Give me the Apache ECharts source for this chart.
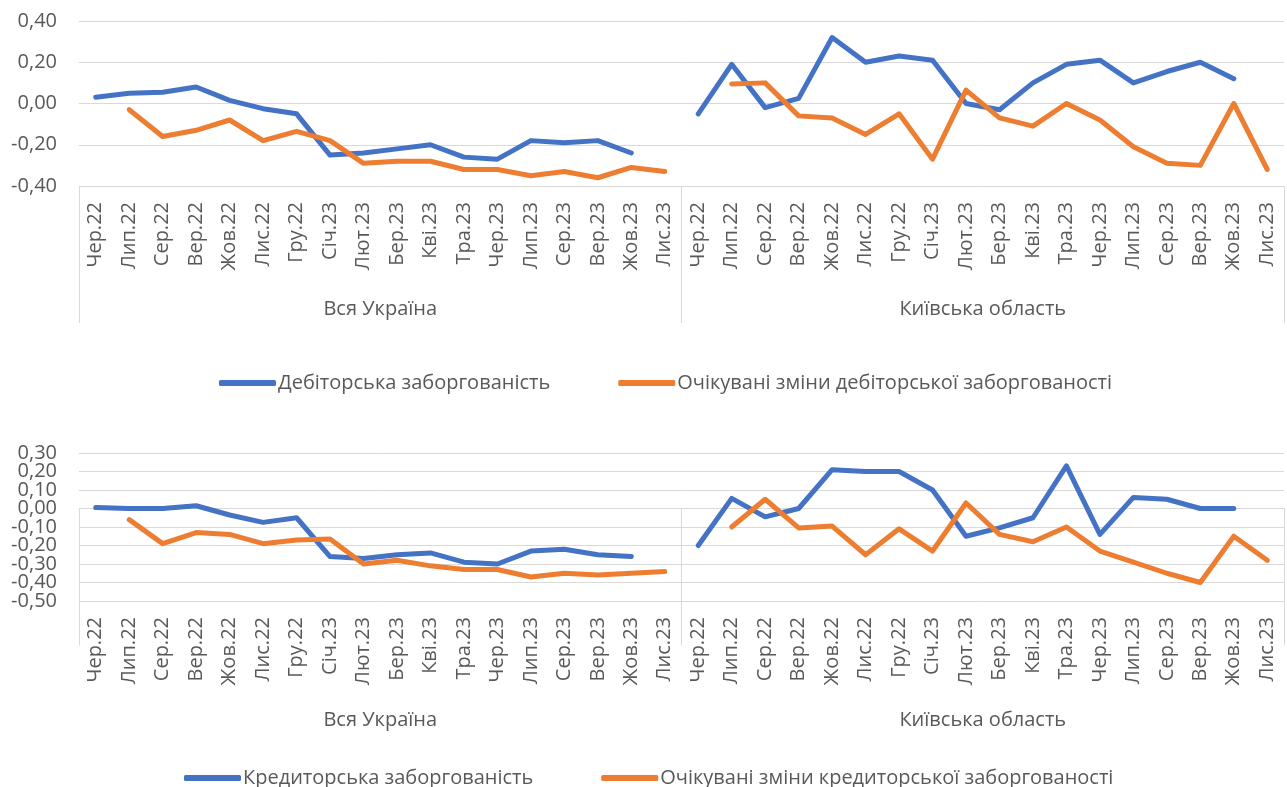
<!DOCTYPE html>
<html>
<head>
    <meta charset="utf-8">
    <title>Дебіторська та кредиторська заборгованість</title>
    <script src="https://cdn.jsdelivr.net/npm/echarts@6/dist/echarts.min.js"></script>
    <style>
        body { margin: 0; background: #fff; }
    </style>
</head>
<body>
    <div id="chart" style="width: 1287px; height: 787px;"></div>
    <script>
        // months repeat for each group (Вся Україна, Київська область)
        var months = ['Чер.22', 'Лип.22', 'Сер.22', 'Вер.22', 'Жов.22', 'Лис.22', 'Гру.22', 'Січ.23', 'Лют.23',
                      'Бер.23', 'Кві.23', 'Тра.23', 'Чер.23', 'Лип.23', 'Сер.23', 'Вер.23', 'Жов.23', 'Лис.23'];
        var groups = ['Вся Україна', 'Київська область'];

        // top chart: дебіторська
        var debUkr    = [0.03, 0.05, 0.055, 0.08, 0.015, -0.025, -0.05, -0.25, -0.24, -0.22, -0.20, -0.26, -0.27, -0.18, -0.19, -0.18, -0.24, null];
        var debKyiv   = [-0.05, 0.19, -0.02, 0.025, 0.32, 0.20, 0.23, 0.21, 0.00, -0.03, 0.10, 0.19, 0.21, 0.10, 0.155, 0.20, 0.12, null];
        var debExpUkr = [null, -0.03, -0.16, -0.13, -0.08, -0.18, -0.135, -0.18, -0.29, -0.28, -0.28, -0.32, -0.32, -0.35, -0.33, -0.36, -0.31, -0.33];
        var debExpKyiv = [null, 0.095, 0.10, -0.06, -0.07, -0.15, -0.05, -0.27, 0.065, -0.07, -0.11, 0.00, -0.08, -0.21, -0.29, -0.30, 0.00, -0.32];

        // bottom chart: кредиторська
        var credUkr    = [0.005, 0.0, 0.0, 0.015, -0.035, -0.075, -0.05, -0.26, -0.27, -0.25, -0.24, -0.29, -0.30, -0.23, -0.22, -0.25, -0.26, null];
        var credKyiv   = [-0.20, 0.055, -0.045, 0.00, 0.21, 0.20, 0.20, 0.10, -0.15, -0.105, -0.05, 0.23, -0.14, 0.06, 0.05, 0.00, 0.00, null];
        var credExpUkr = [null, -0.06, -0.19, -0.13, -0.14, -0.19, -0.17, -0.165, -0.30, -0.28, -0.31, -0.33, -0.33, -0.37, -0.35, -0.36, -0.35, -0.34];
        var credExpKyiv = [null, -0.10, 0.05, -0.105, -0.095, -0.25, -0.11, -0.23, 0.03, -0.14, -0.18, -0.10, -0.23, -0.29, -0.35, -0.40, -0.15, -0.28];

        var names = {
            deb: 'Дебіторська заборгованість',
            debExp: 'Очікувані зміни дебіторської заборгованості',
            cred: 'Кредиторська заборгованість',
            credExp: 'Очікувані зміни кредиторської заборгованості'
        };

        var FONT = 'Open Sans';
        var TXT = '#595959';
        var GRID = '#d9d9d9';
        var BLUE = '#4472C4';
        var ORANGE = '#ED7D31';

        var cats = months.concat(months);

        function fmt(v) {
            return (Math.round(v * 100) / 100).toFixed(2).replace('.', ',');
        }

        function monthAxis(gi) {
            return {
                type: 'category', gridIndex: gi, data: cats, boundaryGap: true,
                axisLine: { show: true, lineStyle: { color: GRID, width: 1 } },
                axisTick: { show: false },
                axisLabel: { rotate: 90, margin: 16, fontSize: 20, color: TXT, fontFamily: FONT, interval: 0 }
            };
        }
        function groupAxis(gi, margin, len) {
            return {
                type: 'category', gridIndex: gi, data: groups, position: 'bottom', boundaryGap: true,
                axisLine: { show: false },
                axisTick: { show: true, length: len, lineStyle: { color: GRID, width: 1 } },
                axisLabel: { margin: margin, fontSize: 20, color: TXT, fontFamily: FONT }
            };
        }
        // parity: null = every label; 0/1 = only even/odd tenths (bottom chart labels are too tight
        // for one axis, so they are split over two overlapping axes with the same scale)
        function valAxis(gi, min, max, step, parity, grid) {
            return {
                type: 'value', gridIndex: gi, min: min, max: max, interval: step,
                position: 'left', offset: 0,
                axisLine: { show: false }, axisTick: { show: false },
                splitLine: { show: grid, lineStyle: { color: GRID, width: 1 } },
                axisLabel: {
                    fontSize: 20, color: TXT, fontFamily: FONT, margin: 22,
                    showMinLabel: true, showMaxLabel: true,
                    formatter: function (v) {
                        if (parity === null) return fmt(v);
                        return Math.abs(Math.round(v * 10)) % 2 === parity ? fmt(v) : '';
                    }
                }
            };
        }
        function line(name, data, color, xi, yi) {
            return {
                name: name, type: 'line', data: data, xAxisIndex: xi, yAxisIndex: yi,
                showSymbol: false, symbol: 'none', connectNulls: false,
                itemStyle: { color: color },
                lineStyle: { color: color, width: 5, cap: 'round', join: 'round' },
                animation: false
            };
        }

        var chart = echarts.init(document.getElementById('chart'));
        var option = {
            backgroundColor: '#fff',
            animation: false,
            grid: [
                { left: 79, right: 3, top: 21, height: 165 },
                { left: 79, right: 3, top: 453, height: 148 }
            ],
            xAxis: [
                monthAxis(0),
                groupAxis(0, 113, 137),
                monthAxis(1),
                groupAxis(1, 109, 137)
            ],
            yAxis: [
                valAxis(0, -0.4, 0.4, 0.2, null, true),
                valAxis(1, -0.5, 0.3, 0.1, 1, true),
                valAxis(1, -0.5, 0.3, 0.1, 0, false)
            ],
            legend: [
                {
                    left: 214, top: 368, itemWidth: 57, itemHeight: 6, itemGap: 68, icon: 'roundRect',
                    data: [names.deb, names.debExp],
                    textStyle: { fontSize: 20, color: TXT, fontFamily: FONT, padding: [0, 0, 0, -3] }
                },
                {
                    left: 179, top: 763, itemWidth: 57, itemHeight: 6, itemGap: 68, icon: 'roundRect',
                    data: [names.cred, names.credExp],
                    textStyle: { fontSize: 20, color: TXT, fontFamily: FONT, padding: [0, 0, 0, -3] }
                }
            ],
            series: [
                line(names.deb, debUkr.concat(debKyiv), BLUE, 0, 0),
                line(names.debExp, debExpUkr.concat(debExpKyiv), ORANGE, 0, 0),
                line(names.cred, credUkr.concat(credKyiv), BLUE, 2, 1),
                line(names.credExp, credExpUkr.concat(credExpKyiv), ORANGE, 2, 1)
            ]
        };
        chart.setOption(option);
    </script>
</body>
</html>
